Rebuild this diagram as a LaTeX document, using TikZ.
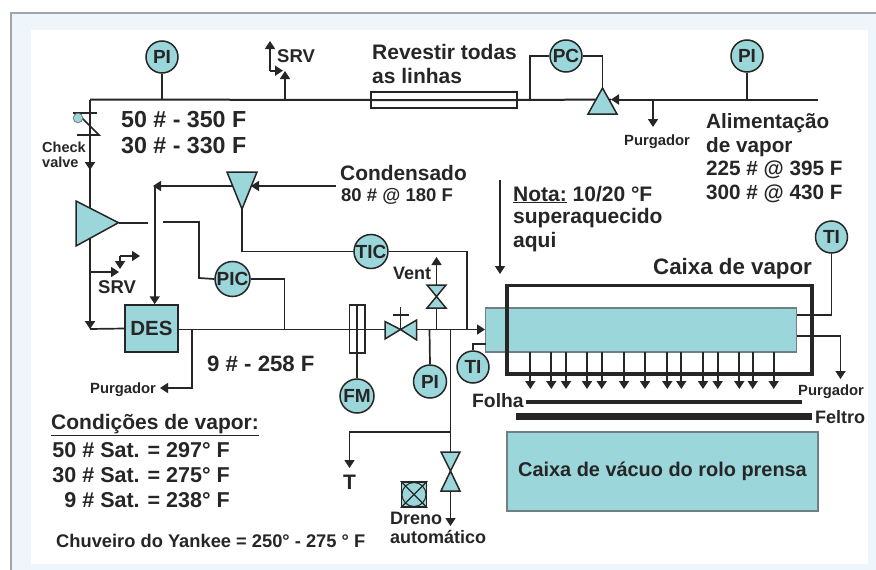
\documentclass[tikz,border=0pt]{standalone}
\usepackage{fontspec}
\setmainfont{Liberation Sans}[BoldFont={Liberation Sans Bold}]
\usetikzlibrary{arrows.meta}
\definecolor{teal1}{HTML}{9BD6DA}
\definecolor{ink}{HTML}{262626}
\definecolor{edge1}{HTML}{6F7F82}
\definecolor{panel}{HTML}{EEF6FC}
\definecolor{frame1}{HTML}{A3A6A8}
\newcommand{\fs}[1]{\fontsize{#1}{#1}\selectfont\bfseries}
\tikzset{
  x=1pt,y=-1pt,
  pipe/.style={draw=ink,line width=1.7pt},
  pipea/.style={pipe,-{Triangle[length=8pt,width=10pt]}},
  inst/.style={circle,draw=ink,line width=1.5pt,fill=teal1,minimum size=32pt,inner sep=0pt,text=ink,font=\fs{19}},
  vlv/.style={draw=ink,line width=1.5pt,fill=teal1},
  txt/.style={inner sep=0pt,anchor=base west,text=ink},
  txte/.style={inner sep=0pt,anchor=base east,text=ink},
  txtc/.style={inner sep=0pt,anchor=base,text=ink},
}
\begin{document}
\begin{tikzpicture}
\useasboundingbox (0,0) rectangle (876,570);
\clip (0,0) rectangle (876,570);
\fill[white] (0,0) rectangle (876,570);
\fill[frame1] (10,12) rectangle (880,575);
\fill[panel] (12,14) rectangle (880,575);
\fill[white] (31,30) rectangle (868,564);

% instruments
\node[inst] (pi1) at (162,57) {PI};
\node[inst] (pc) at (566,56) {PC};
\node[inst] (pi2) at (747,56) {PI};
\node[inst,minimum size=34pt] (tic) at (371,251.5) {TIC};
\node[inst,minimum size=35pt] (pic) at (232.5,279) {PIC};
\node[inst,minimum size=34pt] (fm) at (357,396) {FM};
\node[inst,minimum size=33pt] (pi3) at (430,381.5) {PI};
\node[inst] (ti1) at (473,367) {TI};
\node[inst] (ti2) at (831.5,237) {TI};

% equipment
\node[draw=ink,line width=1.5pt,fill=teal1,minimum width=53pt,minimum height=47pt,inner sep=0pt,text=ink,font=\fs{20.5}] (des) at (151.5,328.5) {DES};
\node[draw=edge1,line width=1.5pt,fill=teal1,minimum width=311pt,minimum height=44pt,inner sep=0pt] (steam) at (641.2,330) {};
\node[draw=edge1,line width=1.5pt,fill=teal1,minimum width=311pt,minimum height=79pt,inner sep=0pt,text=ink,font=\fs{19.9}] (vac) at (662.5,471.5) {Caixa de vácuo do rolo prensa};
\node[draw=ink,line width=3.8pt,minimum width=305pt,minimum height=88.5pt,inner sep=0pt] (sbox) at (659.7,329.7) {};
\node[draw=ink,line width=1.5pt,minimum width=146pt,minimum height=16pt,inner sep=0pt] (rev) at (444,100) {};
\node[draw=ink,line width=1.5pt,minimum width=15.5pt,minimum height=48pt,inner sep=0pt] (rota) at (357,329) {};

% junction coordinates
\coordinate (mainL) at (90,99.5);
\coordinate (mainR) at (818,99.5);
\coordinate (jPI1) at (162,99.5);
\coordinate (jSRV) at (285,99.5);
\coordinate (srvT) at (285,71);
\coordinate (jPCl) at (530,99.5);
\coordinate (jPur) at (653,99.5);
\coordinate (purT) at (653,127);
\coordinate (jPI2) at (747,99.5);
\coordinate (regA) at (602.5,88);
\coordinate (regB) at (588,114);
\coordinate (regC) at (617,114);
\coordinate (regIn) at (611,99.5);
\coordinate (ejA) at (118.5,222.7);
\coordinate (ejB) at (76,201);
\coordinate (ejC) at (76,246);
\coordinate (deA) at (242,209);
\coordinate (deB) at (227,172);
\coordinate (deC) at (257,172);
\coordinate (deIn) at (251,186);
\coordinate (condS) at (336,186);
\coordinate (deOut) at (232,186);
\coordinate (cornerL) at (153,186);
\coordinate (cornerV) at (154.7,186);
\coordinate (jDesL) at (90,329);
\coordinate (mainEnd) at (485,329.5);

% pipework
\draw[pipe,line width=2pt] (mainL) -- (rev.west);
\draw[pipe,line width=2pt] (rev.west) -- (rev.east) -- (regIn);
\draw[pipea,line width=2pt] (mainR) -- (regIn);
\draw[pipe] (pi1) -- (jPI1);
\draw[pipea] (jSRV) -- (srvT);
\coordinate (srv2a) at (283,70.7);
\coordinate (srv2b) at (270,70.7);
\coordinate (srv2c) at (270,41);
\draw[pipea] (srv2b) -- (srv2a);
\draw[pipea] (srv2b) -- (srv2c);
\draw[pipe] (jPCl) |- (pc.west);
\draw[pipe] (pc.east) -| (regA);
\draw[pipea] (jPur) -- (purT);
\draw[pipe] (pi2) -- (jPI2);
\filldraw[vlv] (regA) -- (regB) -- (regC) -- cycle;

% check valve and ejector line
\draw[pipea,line width=2pt] (mainL) -- (90,170);
\draw[pipea,line width=2pt] (90,165) -- (jDesL);
\draw[pipe] (73,113) -- (97,113);
\draw[pipe] (77,135) -- (99,135) -- (82,118);
\filldraw[draw=edge1,fill=teal1,line width=.8pt] (78,118) circle (4.8);
\filldraw[vlv] (ejA) -- (ejB) -- (ejC) -- cycle;
\draw[pipe] (ejA) -- (148,222.7);
\coordinate (pic1) at (163,222);
\coordinate (pic2) at (199,222);
\coordinate (pic3) at (199,278);
\draw[pipe] (pic1) -- (pic2) -- (pic3) -- (pic.west);
\coordinate (picJ) at (284.5,329.5);
\draw[pipe] (pic.east) -| (picJ);

% lower SRV
\coordinate (srv3a) at (90,272);
\coordinate (srv3b) at (119,272);
\coordinate (srv3c) at (120,256);
\coordinate (srv3d) at (120,269);
\coordinate (srv3e) at (140,256);
\draw[pipea] (srv3a) -- (srv3b);
\draw[pipea] (srv3c) -- (srv3d);
\draw[pipea] (srv3c) -- (srv3e);

% desuperheater
\filldraw[vlv] (deA) -- (deB) -- (deC) -- cycle;
\draw[pipea] (condS) -- (deIn);
\draw[pipea] (deOut) -- (cornerL);
\draw[pipea] (cornerV) -- (des.north -| cornerV);
\draw[pipe] (deA) |- (tic.west);
\coordinate (ticJ) at (466.7,329.5);
\draw[pipe] (tic.east) -| (ticJ);
\draw[pipe] (jDesL) -- (des.west);

% 9# line
\draw[pipea] (des.east |- mainEnd) -- (mainEnd);
\coordinate (purJ) at (192,329.5);
\coordinate (purL) at (160,388);
\draw[pipea] (purJ) |- (purL);

% rotameter
\draw[pipe] (rota.north) -- (rota.south);
\draw[pipe] (rota.south) -- (fm.north);

% gate valve
\coordinate (gvA) at (400.5,329.5);
\filldraw[vlv,fill=teal1] (gvA) -- (385,321.5) -- (385,339) -- cycle;
\filldraw[vlv] (gvA) -- (416.7,320) -- (416.7,340) -- cycle;
\draw[pipe] (gvA) -- (400.5,307);
\draw[pipe] (392.5,315) -- (409,315);

% PI3, TI1
\coordinate (jPI3) at (429.5,329.5);
\draw[pipe] (jPI3) -- (pi3.north);
\coordinate (ti1c) at (473,344);
\coordinate (ti1e) at (485.7,344);
\draw[pipe] (ti1.north) -- (ti1c) -- (ti1e);

% vent
\coordinate (vJ) at (436.5,329.5);
\coordinate (vM) at (436.5,296.5);
\coordinate (vT) at (436.5,257);
\draw[pipe] (vJ) -- (436.5,308);
\draw[pipea] (436.5,285) -- (vT);
\filldraw[vlv] (vM) -- (427,308) -- (446,308) -- cycle;
\filldraw[vlv] (vM) -- (427,285) -- (446,285) -- cycle;

% drain
\coordinate (dJ) at (450.5,329.5);
\coordinate (dB) at (450.5,432);
\coordinate (dM) at (450.5,471);
\coordinate (dT) at (450.5,526);
\coordinate (tT) at (349.5,468);
\draw[pipe] (dJ) -- (450.5,452);
\draw[pipea] (450.5,491) -- (dT);
\draw[pipea] (dB) -| (tT);
\filldraw[vlv] (dM) -- (441,452) -- (460,452) -- cycle;
\filldraw[vlv] (dM) -- (441,491) -- (460,491) -- cycle;

% solenoid
\node[draw=ink,line width=1.7pt,fill=teal1,minimum size=25pt,inner sep=0pt] (sol) at (414,494.5) {};
\draw[ink,line width=1pt] (sol.center) circle (12);
\draw[ink,line width=1.2pt] (sol.north west) -- (sol.south east) (sol.north east) -- (sol.south west);

% steam box connections
\foreach \px in {530.3,551.3,566,587,601.7,624,645,667.3,681.3,703,717.7,739.3,752.7,773.7}
  \draw[pipea] (\px,352) -- (\px,389);
\coordinate (ti2c) at (831.5,315);
\coordinate (st1) at (796.7,315);
\draw[pipe] (ti2.south) -- (ti2c) -- (st1);
\coordinate (st2) at (796.7,336);
\coordinate (purR) at (840.5,379);
\draw[pipea] (st2) -| (purR);
\draw[pipea] (500,180) -- (500,274);

% sheet and felt
\coordinate (fo1) at (526,402);
\coordinate (fo2) at (802,402);
\coordinate (fe1) at (516,416.7);
\coordinate (fe2) at (812,416.7);
\draw[ink,line width=3.2pt] (fo1) -- (fo2);
\draw[ink,line width=7.5pt] (fe1) -- (fe2);

% labels
\node[txt,font=\fs{18.5}] (l1) at (277,62) {SRV};
\node[txt,font=\fs{18.5}] (l2) at (98,293) {SRV};
\node[txt,font=\fs{21}] (l3) at (372,59) {Revestir todas};
\node[txt,font=\fs{21}] (l4) at (372,83) {as linhas};
\node[txt,font=\fs{23.2}] (l5) at (121,127) {50 \# - 350 F};
\node[txt,font=\fs{23.2}] (l6) at (121,153) {30 \# - 330 F};
\node[txt,font=\fs{14.5}] (l7) at (42,152) {Check};
\node[txt,font=\fs{14.5}] (l8) at (42,167) {valve};
\node[txt,font=\fs{20.9}] (l9) at (340,180) {Condensado};
\node[txt,font=\fs{18.5}] (l10) at (341,201) {80 \# @ 180 F};
\node[txt,font=\fs{14.8}] (l11) at (624,145) {Purgador};
\node[txt,font=\fs{20.7}] (l12) at (706,128) {Alimentação};
\node[txt,font=\fs{20.7}] (l13) at (706,152) {de vapor};
\node[txt,font=\fs{20.7}] (l14) at (706,175) {225 \# @ 395 F};
\node[txt,font=\fs{20.7}] (l15) at (706,199) {300 \# @ 430 F};
\node[txt,font=\fs{21}] (l16) at (513,201) {\underline{Nota:} 10/20 °F};
\node[txt,font=\fs{21}] (l17) at (513,223) {superaquecido};
\node[txt,font=\fs{21}] (l18) at (513,247) {aqui};
\node[txt,font=\fs{22.3}] (l19) at (653,274) {Caixa de vapor};
\node[txt,font=\fs{18}] (l20) at (393,279) {Vent};
\node[txt,font=\fs{22.2}] (l21) at (207,371) {9 \# - 258 F};
\node[txt,font=\fs{14.8}] (l22) at (90,393) {Purgador};
\node[txt,font=\fs{21}] (l23) at (51,429) {\underline{Condições de vapor:}};
\node[txte,font=\fs{21.5}] (l24) at (230,457) {50 \# Sat. = 297° F};
\node[txte,font=\fs{21.5}] (l25) at (230,482) {30 \# Sat. = 275° F};
\node[txte,font=\fs{21.5}] (l26) at (230,507) {9 \# Sat. = 238° F};
\node[txt,font=\fs{18.3}] (l27) at (56,547) {Chuveiro do Yankee = 250° - 275 ° F};
\node[txtc,font=\fs{21}] (l28) at (349.5,489) {T};
\node[txt,font=\fs{18}] (l29) at (390,524) {Dreno};
\node[txt,font=\fs{18}] (l30) at (390,543) {automático};
\node[txt,font=\fs{19.3}] (l31) at (472,407) {Folha};
\node[txt,font=\fs{18}] (l32) at (815,423) {Feltro};
\node[txt,font=\fs{14.8}] (l33) at (798,395) {Purgador};
\end{tikzpicture}
\end{document}
